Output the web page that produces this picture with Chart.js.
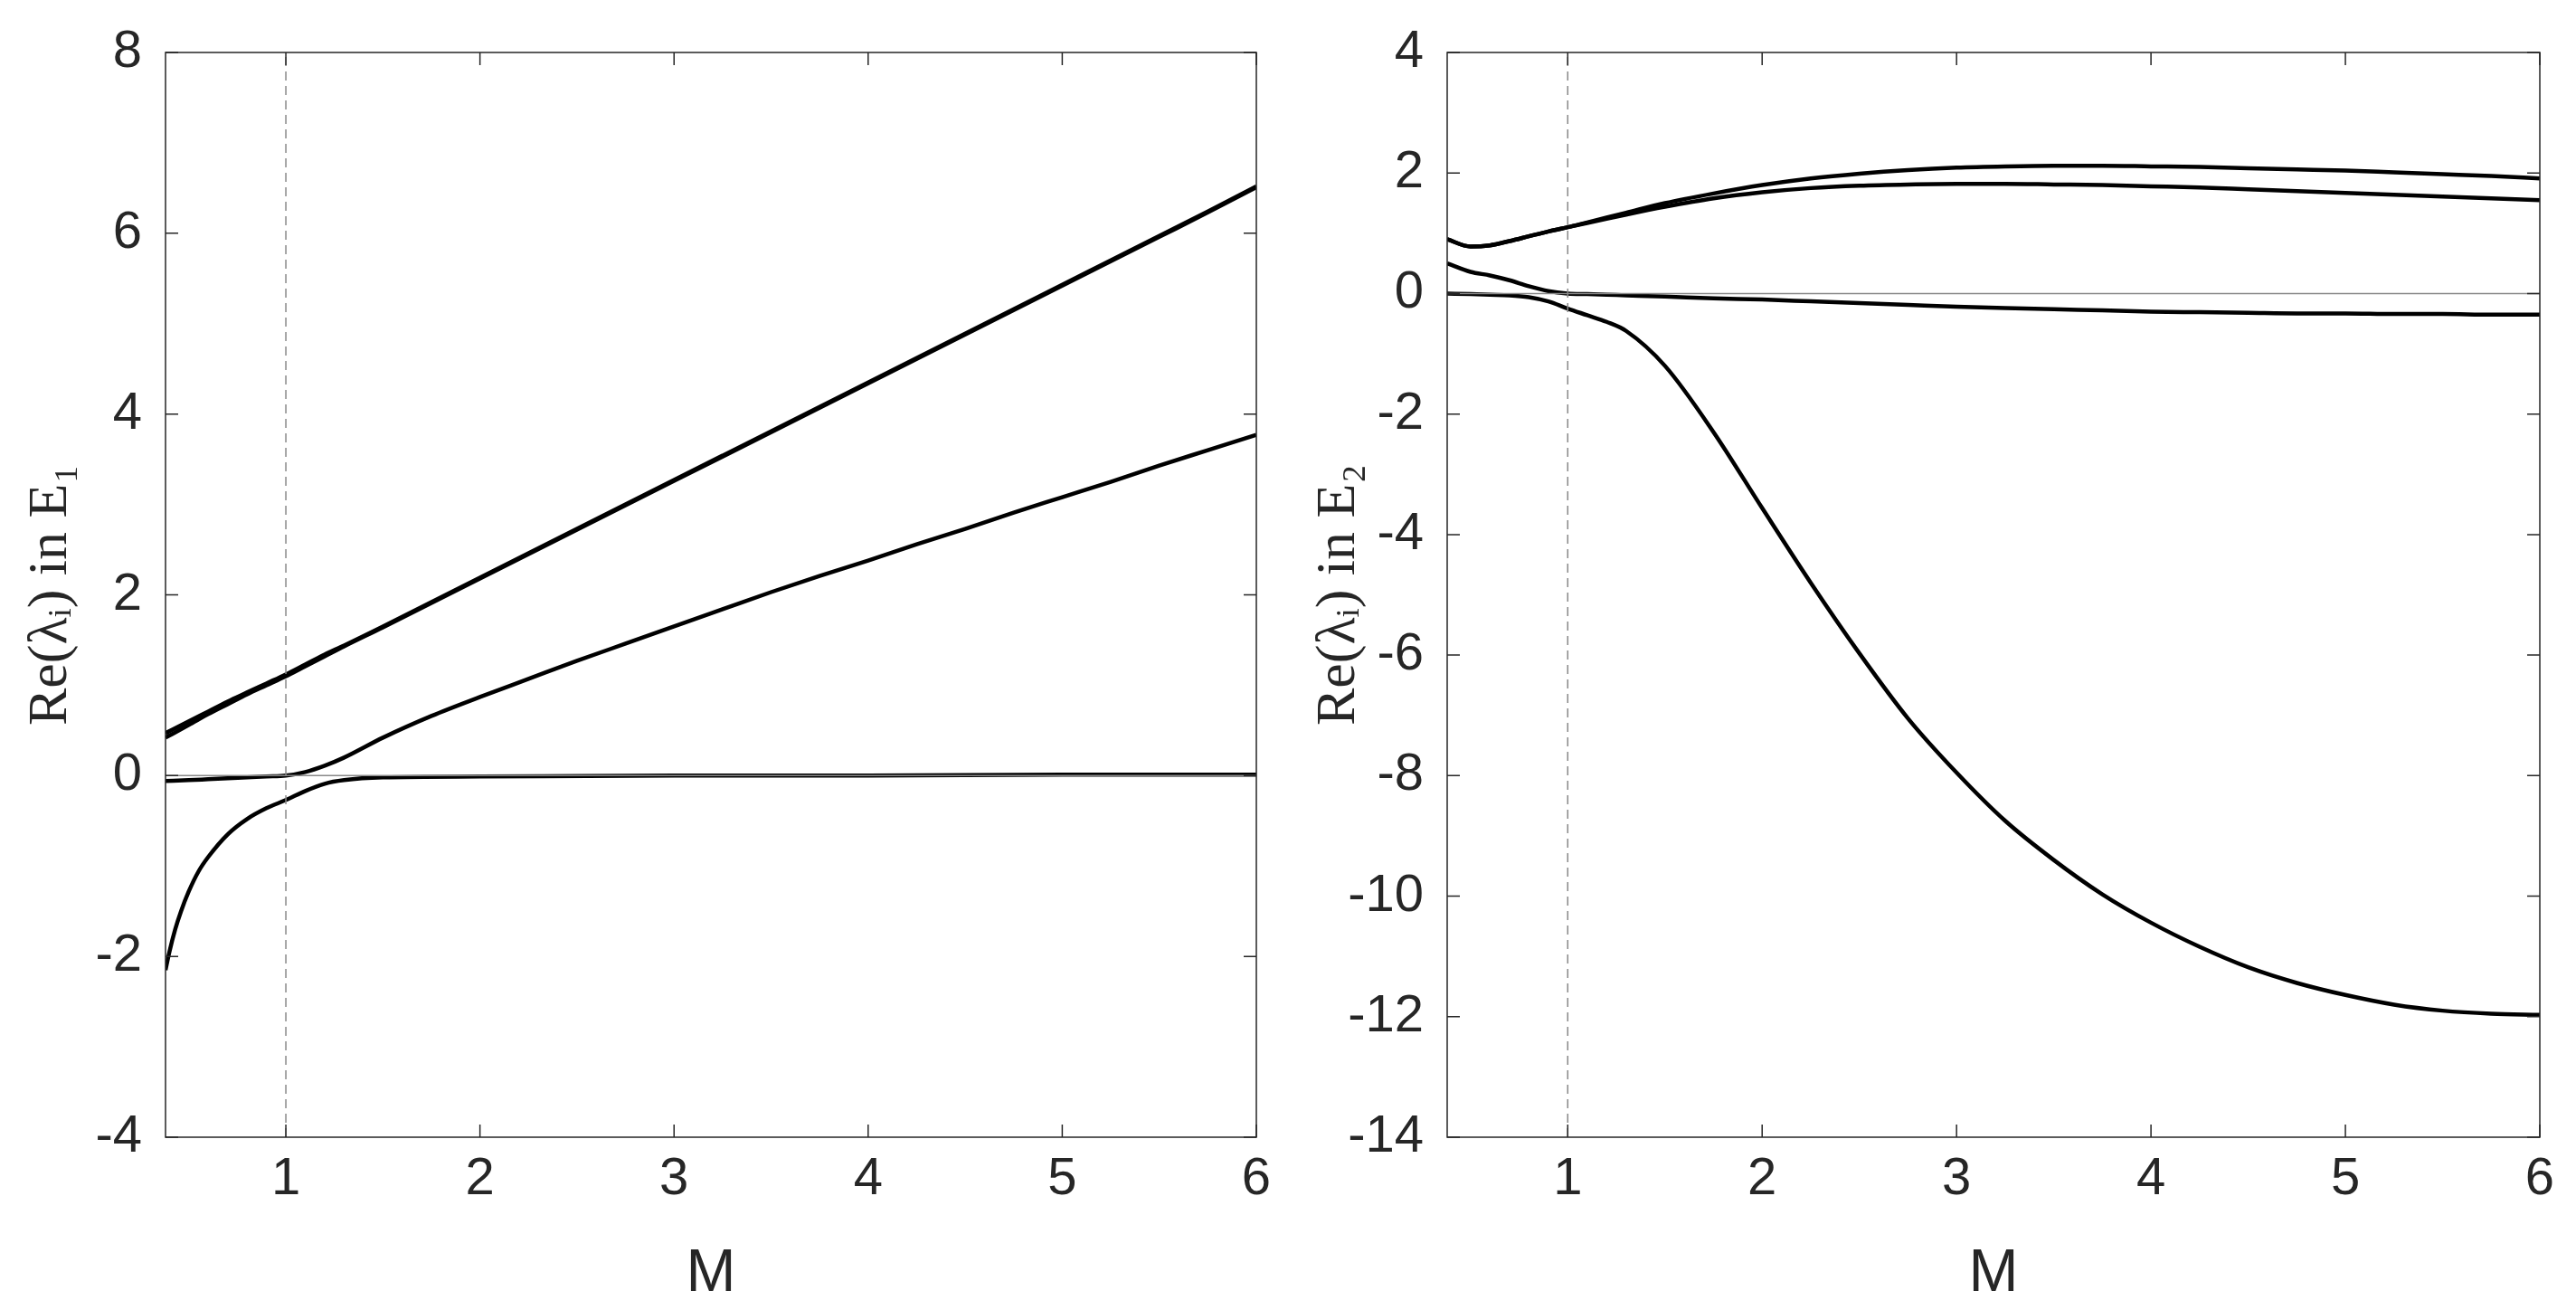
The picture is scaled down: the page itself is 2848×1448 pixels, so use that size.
<!DOCTYPE html>
<html>
<head>
<meta charset="utf-8">
<script src="https://cdn.jsdelivr.net/npm/chart.js@4.4.0/dist/chart.umd.min.js"></script>
<style>
  html, body { margin: 0; padding: 0; background: #fff; }
  .panel { position: absolute; top: 0; width: 1424px; height: 1448px; }
</style>
</head>
<body>
<div class="panel" style="left:0"><canvas id="c1"></canvas></div>
<div class="panel" style="left:1424px"><canvas id="c2"></canvas></div>
<script>
// x values (M) shared by the curves
const M = [0.38, 0.5, 0.6, 0.7, 0.8, 0.9, 1, 1.1, 1.2, 1.3, 1.5, 1.75, 2, 2.25, 2.5, 2.75, 3, 3.25, 3.5, 3.75, 4, 4.25, 4.5, 4.75, 5, 5.25, 5.5, 5.75, 6]
// denser x values for the steep lower E1 branch
const Md = [0.38, 0.4, 0.43, 0.46, 0.5, 0.55, 0.6, 0.7, 0.8, 0.9, 1, 1.1, 1.2, 1.3, 1.5, 2, 3, 4, 5, 6]

// E1 panel
const e1a = [0.47, 0.6, 0.71, 0.82, 0.92, 1.02, 1.12, 1.23, 1.34, 1.44, 1.65, 1.92, 2.19, 2.46, 2.73, 3.0, 3.27, 3.54, 3.81, 4.08, 4.35, 4.62, 4.89, 5.16, 5.43, 5.7, 5.97, 6.24, 6.52]
const e1b = [0.42, 0.56, 0.68, 0.79, 0.9, 1.0, 1.1, 1.21, 1.32, 1.43, 1.64, 1.91, 2.18, 2.45, 2.72, 2.99, 3.26, 3.53, 3.8, 4.07, 4.34, 4.61, 4.88, 5.15, 5.42, 5.69, 5.96, 6.23, 6.51]
const e1c = [-0.06, -0.05, -0.04, -0.03, -0.02, -0.01, 0.0, 0.04, 0.11, 0.2, 0.42, 0.66, 0.87, 1.07, 1.27, 1.46, 1.65, 1.84, 2.03, 2.21, 2.38, 2.56, 2.73, 2.91, 3.08, 3.25, 3.43, 3.6, 3.77]
const e1d = [-2.15, -1.95, -1.7, -1.5, -1.28, -1.06, -0.9, -0.65, -0.48, -0.36, -0.27, -0.17, -0.09, -0.05, -0.02, -0.01, 0, 0, 0.01, 0.01]

// E2 panel
const e2a = [0.9, 0.78, 0.8, 0.87, 0.95, 1.03, 1.1, 1.18, 1.26, 1.34, 1.5, 1.66, 1.8, 1.91, 1.99, 2.05, 2.09, 2.11, 2.12, 2.12, 2.11, 2.1, 2.08, 2.06, 2.04, 2.01, 1.98, 1.95, 1.91]
const e2b = [0.9, 0.78, 0.8, 0.87, 0.95, 1.03, 1.1, 1.17, 1.24, 1.31, 1.44, 1.58, 1.68, 1.75, 1.79, 1.81, 1.82, 1.82, 1.81, 1.8, 1.78, 1.76, 1.73, 1.7, 1.67, 1.64, 1.61, 1.58, 1.55]
const e2c = [0.5, 0.36, 0.3, 0.22, 0.12, 0.04, 0.0, -0.01, -0.02, -0.03, -0.05, -0.08, -0.1, -0.13, -0.16, -0.19, -0.22, -0.24, -0.26, -0.28, -0.3, -0.31, -0.32, -0.33, -0.33, -0.34, -0.34, -0.35, -0.35]
const e2d = [0.0, -0.01, -0.02, -0.03, -0.06, -0.13, -0.25, -0.36, -0.47, -0.62, -1.2, -2.3, -3.56, -4.8, -5.97, -7.05, -7.95, -8.75, -9.4, -9.97, -10.44, -10.84, -11.18, -11.44, -11.64, -11.8, -11.9, -11.95, -11.97]

const xTicks = [1, 2, 3, 4, 5, 6]
const xMin = 0.38, xMax = 6

function pts(ys, xs) { return ys.map((y, i) => ({ x: xs[i], y: y })) }

// box with inward tick marks, MATLAB style
const boxPlugin = {
  id: 'box',
  afterDraw(chart) {
    const { ctx, chartArea: a, scales } = chart
    ctx.save()
    ctx.strokeStyle = '#262626'
    ctx.lineWidth = 1.5
    ctx.strokeRect(a.left, a.top, a.right - a.left, a.bottom - a.top)
    const L = 14
    ctx.beginPath()
    for (const t of scales.x.ticks) {
      const px = scales.x.getPixelForValue(t.value)
      ctx.moveTo(px, a.bottom); ctx.lineTo(px, a.bottom - L)
      ctx.moveTo(px, a.top); ctx.lineTo(px, a.top + L)
    }
    for (const t of scales.y.ticks) {
      const py = scales.y.getPixelForValue(t.value)
      ctx.moveTo(a.left, py); ctx.lineTo(a.left + L, py)
      ctx.moveTo(a.right, py); ctx.lineTo(a.right - L, py)
    }
    ctx.stroke()
    ctx.restore()
  }
}

function makeChart(id, curves, yMin, yMax, title, yWidth, padRight) {
  const datasets = [
    { data: [{ x: xMin, y: 0 }, { x: xMax, y: 0 }], borderColor: '#888', borderWidth: 1.5 },
    { data: [{ x: 1, y: yMin }, { x: 1, y: yMax }], borderColor: '#888', borderWidth: 1.5, borderDash: [10, 6] }
  ]
  for (const c of curves) {
    datasets.push({ data: pts(c[0], c[1]), borderColor: '#000', borderWidth: 4.5, cubicInterpolationMode: 'monotone' })
  }
  return new Chart(document.getElementById(id), {
    type: 'scatter',
    data: { datasets: datasets.map(d => Object.assign({ showLine: true, pointRadius: 0, fill: false }, d)) },
    options: {
      responsive: true,
      maintainAspectRatio: false,
      animation: false,
      layout: { padding: { top: 58, right: padRight, left: 0, bottom: 0 } },
      plugins: { legend: { display: false }, tooltip: { enabled: false } },
      scales: {
        x: {
          type: 'linear', min: xMin, max: xMax,
          afterBuildTicks: s => { s.ticks = xTicks.map(v => ({ value: v })) },
          afterFit: s => { s.height = 191 },
          grid: { display: false }, border: { display: false },
          ticks: { color: '#262626', padding: 4, font: { family: 'Liberation Sans', size: 58 } },
          title: { display: true, text: 'M', color: '#262626', padding: { top: 6, bottom: 0 }, font: { family: 'Liberation Sans', size: 66 } }
        },
        y: {
          min: yMin, max: yMax,
          afterFit: s => { s.width = yWidth },
          grid: { display: false }, border: { display: false },
          ticks: { stepSize: 2, color: '#262626', padding: 18, font: { family: 'Liberation Sans', size: 58 } },
          title: { display: true, text: title, color: '#262626', padding: { top: 20, bottom: 0 }, font: { family: 'Liberation Serif', size: 62 } }
        }
      }
    },
    plugins: [boxPlugin]
  })
}

makeChart('c1', [[e1a, M], [e1b, M], [e1c, M], [e1d, Md]], -4, 8, 'Re(λᵢ) in E₁', 183, 35)
makeChart('c2', [[e2a, M], [e2b, M], [e2c, M], [e2d, M]], -14, 4, 'Re(λᵢ) in E₂', 176, 40)
</script>
</body>
</html>
